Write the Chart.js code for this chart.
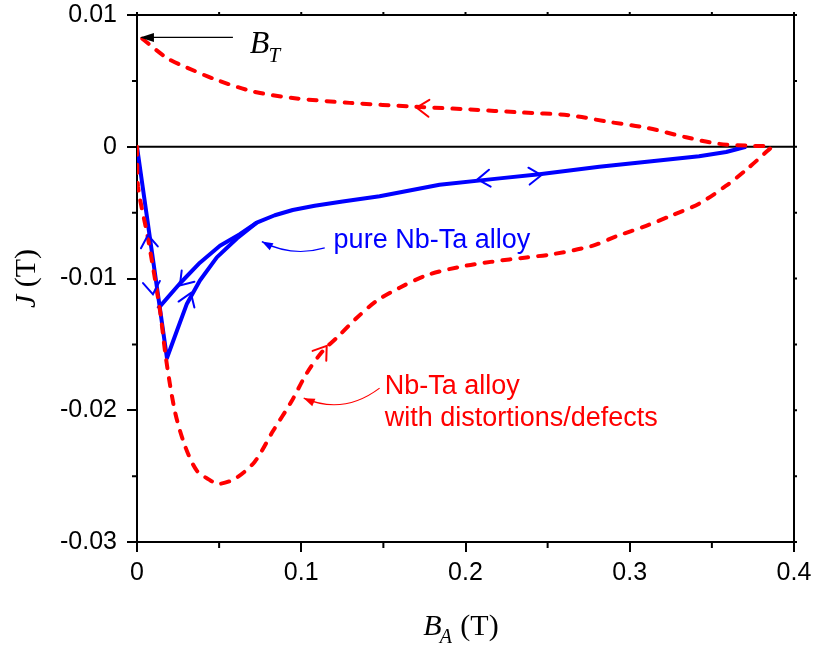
<!DOCTYPE html>
<html>
<head>
<meta charset="utf-8">
<title>Nb-Ta magnetization loops</title>
<script src="https://cdn.jsdelivr.net/npm/chart.js@4.4.0/dist/chart.umd.min.js"></script>
<style>
  body { margin: 0; background: #fff; }
  .wrap { width: 814px; height: 646px; }
</style>
</head>
<body>
<div class="wrap"><canvas id="loopChart"></canvas></div>
<script>
// applied field B_A (T) and magnetization J (T)

// Nb-Ta alloy with distortions/defects, one full loop (out along the bottom, back along the top)
const defectX = [0, 0.0006, 0.0067, 0.0140, 0.0176, 0.0231, 0.0292, 0.0365, 0.0444, 0.0492,
  0.0596, 0.0717, 0.0827, 0.0942, 0.1033, 0.1131, 0.1216, 0.1337, 0.1459, 0.1599,
  0.1763, 0.1964, 0.2164, 0.2371, 0.2529, 0.2772, 0.2918, 0.3100, 0.3258, 0.3422,
  0.3587, 0.3708, 0.3830, 0.3860, 0.3745, 0.3544, 0.3343, 0.3100, 0.2875, 0.2632,
  0.2328, 0.2024, 0.1696, 0.1295, 0.0948, 0.0705, 0.0486, 0.0304, 0.0182, 0.0018, 0];
const defectJ = [0, -0.0030, -0.00696, -0.01244, -0.01603, -0.0201, -0.0227, -0.0246, -0.0253, -0.0256,
  -0.0252, -0.0239, -0.0216, -0.0193, -0.0172, -0.0155, -0.0145, -0.0130, -0.0117, -0.0107,
  -0.00976, -0.00912, -0.00872, -0.0084, -0.00816, -0.00752, -0.0068, -0.0060, -0.0052, -0.00432,
  -0.00296, -0.00176, -0.0004, 0, 0.00007, 0.00022, 0.00072, 0.00145, 0.00188, 0.00239,
  0.00261, 0.00283, 0.00304, 0.00333, 0.0037, 0.0042, 0.00507, 0.00601, 0.00674, 0.00833, 0.0084];

// pure Nb-Ta alloy, outer branch and the reversible tail up to Bc2
const pureX = [0, 0.01824, 0.0243, 0.0304, 0.0383, 0.0486, 0.0608, 0.0729, 0.0839, 0.0948,
  0.1082, 0.1252, 0.1477, 0.1842, 0.2207, 0.2450, 0.2815, 0.3119, 0.3422, 0.3587, 0.3708];
const pureJ = [0, -0.01603, -0.01397, -0.01191, -0.01015, -0.0084, -0.00696, -0.00576, -0.0052, -0.0048,
  -0.00448, -0.00416, -0.00376, -0.00288, -0.0024, -0.00208, -0.00152, -0.00112, -0.00072, -0.0004, 0];

// pure Nb-Ta alloy, inner (decreasing field) branch
const pureInnerX = [0.0729, 0.0626, 0.0505, 0.0383, 0.0261, 0.0128];
const pureInnerJ = [-0.00576, -0.00664, -0.00752, -0.0088, -0.01038, -0.01229];

// direction chevrons: tip point and a point behind it on the curve
const blueArrows = [
  [0.0067, -0.0067, 0.0085, -0.0087],
  [0.0097, -0.0112, 0.0079, -0.00936],
  [0.0261, -0.01053, 0.0383, -0.0088],
  [0.0328, -0.0111, 0.0261, -0.0133],
  [0.2462, -0.00216, 0.2207, -0.0024],
  [0.2073, -0.00248, 0.2328, -0.00216]
];
const redArrows = [
  [0.1155, -0.01511, 0.1033, -0.0172],
  [0.1702, 0.00297, 0.1903, 0.00283]
];

const xTicks = [0, 0.1, 0.2, 0.3, 0.4];
const yTicks = [0.01, 0, -0.01, -0.02, -0.03];
const xMinor = [0.05, 0.15, 0.25, 0.35];
const yMinor = [0.005, -0.005, -0.015, -0.025];

const SANS = '"Liberation Sans", Arial, sans-serif';
const SERIF = '"Liberation Serif", "Times New Roman", serif';

function pts(xs, ys) {
  return xs.map((x, i) => ({ x: x, y: ys[i] }));
}

function fmt(v) {
  return String(Number(v.toFixed(3)));
}

function chevron(ctx, x0, y0, x1, y1, color) {
  const a = Math.atan2(y0 - y1, x0 - x1);
  const len = 15, spread = 0.6;
  ctx.save();
  ctx.strokeStyle = color;
  ctx.lineWidth = 2;
  ctx.lineCap = 'round';
  ctx.beginPath();
  ctx.moveTo(x0 + len * Math.cos(a + Math.PI - spread), y0 + len * Math.sin(a + Math.PI - spread));
  ctx.lineTo(x0, y0);
  ctx.lineTo(x0 + len * Math.cos(a + Math.PI + spread), y0 + len * Math.sin(a + Math.PI + spread));
  ctx.stroke();
  ctx.restore();
}

function headAt(ctx, x, y, ang, len, half, color) {
  ctx.fillStyle = color;
  ctx.beginPath();
  ctx.moveTo(x, y);
  ctx.lineTo(x - len * Math.cos(ang) + half * Math.sin(ang), y - len * Math.sin(ang) - half * Math.cos(ang));
  ctx.lineTo(x - len * Math.cos(ang) - half * Math.sin(ang), y - len * Math.sin(ang) + half * Math.cos(ang));
  ctx.closePath();
  ctx.fill();
}

// thin pointer from a label to its curve (quadratic, arrowhead at tip)
function pointer(ctx, t, c, p, color, width) {
  ctx.save();
  ctx.strokeStyle = color;
  ctx.lineWidth = width;
  ctx.beginPath();
  ctx.moveTo(t.x, t.y);
  ctx.quadraticCurveTo(c.x, c.y, p.x, p.y);
  ctx.stroke();
  const ang = Math.atan2(p.y - c.y, p.x - c.x);
  headAt(ctx, p.x, p.y, ang, 11, 4, color);
  ctx.restore();
}

const decorations = {
  id: 'decorations',
  beforeDatasetsDraw(chart) {
    const { ctx, chartArea: a, scales: { y } } = chart;
    // zero line
    ctx.save();
    ctx.strokeStyle = '#000';
    ctx.lineWidth = 2;
    ctx.beginPath();
    ctx.moveTo(a.left, y.getPixelForValue(0));
    ctx.lineTo(a.right, y.getPixelForValue(0));
    ctx.stroke();
    ctx.restore();
  },
  afterDatasetsDraw(chart) {
    const { ctx, scales: { x, y } } = chart;
    const P = (vx, vy) => ({ x: x.getPixelForValue(vx), y: y.getPixelForValue(vy) });

    blueArrows.forEach(r => {
      const t = P(r[0], r[1]), b = P(r[2], r[3]);
      chevron(ctx, t.x, t.y, b.x, b.y, '#0000ff');
    });
    redArrows.forEach(r => {
      const t = P(r[0], r[1]), b = P(r[2], r[3]);
      chevron(ctx, t.x, t.y, b.x, b.y, '#ff0000');
    });

    // B_T marker
    const bt0 = P(0.0584, 0.0083), bt1 = P(0.0018, 0.0083);
    ctx.save();
    ctx.strokeStyle = '#000';
    ctx.lineWidth = 1.2;
    ctx.beginPath();
    ctx.moveTo(bt0.x, bt0.y);
    ctx.lineTo(bt1.x + 8, bt1.y);
    ctx.stroke();
    headAt(ctx, bt1.x, bt1.y, Math.PI, 14, 4.5, '#000');
    const bl = P(0.0687, 0.0071);
    ctx.fillStyle = '#000';
    ctx.textBaseline = 'alphabetic';
    ctx.font = 'italic 32px ' + SERIF;
    ctx.fillText('B', bl.x, bl.y);
    const bw = ctx.measureText('B').width;
    ctx.font = 'italic 21px ' + SERIF;
    ctx.fillText('T', bl.x + bw - 1, bl.y + 9);
    ctx.restore();

    // labels with pointers
    pointer(ctx, P(0.1143, -0.00768), P(0.0945, -0.0084), P(0.0760, -0.0072), '#0000ff', 1.2);
    pointer(ctx, P(0.1477, -0.01832), P(0.1258, -0.02038), P(0.1015, -0.01908), '#ff0000', 1.2);

    ctx.save();
    ctx.textBaseline = 'alphabetic';
    ctx.font = '27px ' + SANS;
    ctx.fillStyle = '#0000ff';
    let q = P(0.1197, -0.00768);
    ctx.fillText('pure Nb-Ta alloy', q.x, q.y);
    ctx.fillStyle = '#ff0000';
    q = P(0.1508, -0.01878);
    ctx.fillText('Nb-Ta alloy', q.x, q.y);
    q = P(0.1508, -0.0212);
    ctx.fillText('with distortions/defects', q.x, q.y);
    ctx.restore();
  },
  afterDraw(chart) {
    const { ctx, chartArea: a, scales: { x, y } } = chart;
    ctx.save();
    ctx.strokeStyle = '#000';
    ctx.lineWidth = 2;
    // top and right edges of the frame
    ctx.beginPath();
    ctx.moveTo(a.left, a.top);
    ctx.lineTo(a.right, a.top);
    ctx.lineTo(a.right, a.bottom);
    ctx.stroke();

    // minor ticks, plus small marks on the top and right edges
    ctx.beginPath();
    xMinor.forEach(v => {
      const px = x.getPixelForValue(v);
      ctx.moveTo(px, a.bottom); ctx.lineTo(px, a.bottom + 6);
    });
    yMinor.forEach(v => {
      const py = y.getPixelForValue(v);
      ctx.moveTo(a.left, py); ctx.lineTo(a.left - 5, py);
    });
    xTicks.concat(xMinor).forEach(v => {
      const px = x.getPixelForValue(v);
      ctx.moveTo(px, a.top); ctx.lineTo(px, a.top - 3);
    });
    yTicks.concat(yMinor).forEach(v => {
      const py = y.getPixelForValue(v);
      ctx.moveTo(a.right, py); ctx.lineTo(a.right + 3, py);
    });
    ctx.stroke();

    // axis titles
    ctx.fillStyle = '#000';
    ctx.textBaseline = 'alphabetic';
    ctx.font = 'italic 30px ' + SERIF;
    const wB = ctx.measureText('B').width;
    ctx.font = 'italic 20px ' + SERIF;
    const wA = ctx.measureText('A').width;
    ctx.font = '30px ' + SERIF;
    const wT = ctx.measureText(' (T)').width;
    let sx = (a.left + a.right) / 2 - (wB + wA + wT) / 2 - 4;
    const by = a.bottom + 93;
    ctx.font = 'italic 30px ' + SERIF;
    ctx.fillText('B', sx, by);
    ctx.font = 'italic 20px ' + SERIF;
    ctx.fillText('A', sx + wB - 2, by + 8);
    ctx.font = '30px ' + SERIF;
    ctx.fillText(' (T)', sx + wB + wA - 1, by);

    ctx.translate(35, (a.top + a.bottom) / 2);
    ctx.rotate(-Math.PI / 2);
    ctx.font = 'italic 30px ' + SERIF;
    const wJ = ctx.measureText('J').width;
    ctx.font = '30px ' + SERIF;
    const wR = ctx.measureText(' (T)').width;
    const jx = -(wJ + wR) / 2;
    ctx.font = 'italic 30px ' + SERIF;
    ctx.fillText('J', jx, 0);
    ctx.font = '30px ' + SERIF;
    ctx.fillText(' (T)', jx + wJ, 0);
    ctx.restore();
  }
};

new Chart(document.getElementById('loopChart'), {
  type: 'scatter',
  data: {
    datasets: [
      {
        label: 'Nb-Ta alloy with distortions/defects',
        data: pts(defectX, defectJ),
        showLine: true,
        borderColor: '#ff0000',
        borderWidth: 4,
        borderDash: [8, 10],
        borderCapStyle: 'round',
        tension: 0.3,
        pointRadius: 0,
        order: 0
      },
      {
        label: 'pure Nb-Ta alloy',
        data: pts(pureX, pureJ),
        showLine: true,
        borderColor: '#0000ff',
        borderWidth: 4,
        borderJoinStyle: 'round',
        tension: 0,
        pointRadius: 0,
        order: 1
      },
      {
        label: 'pure Nb-Ta alloy (inner)',
        data: pts(pureInnerX, pureInnerJ),
        showLine: true,
        borderColor: '#0000ff',
        borderWidth: 4,
        borderJoinStyle: 'round',
        tension: 0,
        pointRadius: 0,
        order: 1
      }
    ]
  },
  options: {
    responsive: true,
    maintainAspectRatio: false,
    animation: false,
    layout: { padding: { top: 15, right: 20, left: 0, bottom: 0 } },
    plugins: {
      legend: { display: false },
      tooltip: { enabled: false }
    },
    scales: {
      x: {
        type: 'linear',
        min: 0,
        max: 0.4,
        afterFit: s => {
          s.height = 104;
          s.paddingLeft = 0;
          s.paddingRight = 0;
        },
        afterBuildTicks: s => { s.ticks = xTicks.map(v => ({ value: v })); },
        ticks: {
          font: { family: SANS, size: 25 },
          color: '#000',
          padding: 6,
          maxRotation: 0,
          callback: v => fmt(v)
        },
        grid: {
          display: true,
          drawOnChartArea: false,
          drawTicks: true,
          tickLength: 10,
          color: '#000',
          lineWidth: 2
        },
        border: { display: true, color: '#000', width: 2 }
      },
      y: {
        type: 'linear',
        min: -0.03,
        max: 0.01,
        afterFit: s => {
          s.width = 137;
          s.paddingTop = 0;
          s.paddingBottom = 0;
        },
        afterBuildTicks: s => { s.ticks = yTicks.map(v => ({ value: v })); },
        ticks: {
          font: { family: SANS, size: 25 },
          color: '#000',
          padding: 10,
          callback: v => fmt(v)
        },
        grid: {
          display: true,
          drawOnChartArea: false,
          drawTicks: true,
          tickLength: 10,
          color: '#000',
          lineWidth: 2
        },
        border: { display: true, color: '#000', width: 2 }
      }
    }
  },
  plugins: [decorations]
});
</script>
</body>
</html>
